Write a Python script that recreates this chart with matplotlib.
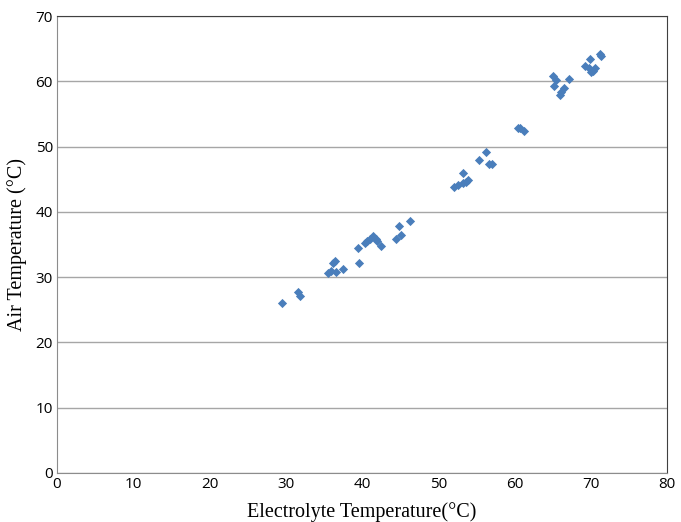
import numpy as np
import matplotlib.pyplot as plt

# Electrolyte temperature (x) vs air temperature (y), in degC
electrolyte_temp = [29.5, 31.6, 31.9,
                    35.6, 35.9, 36.2, 36.5, 36.6, 37.5, 39.6, 39.5,
                    40.4, 40.7, 41.0, 41.5, 41.8, 42.0, 42.5,
                    44.5, 45.1, 44.8, 46.3,
                    52.1, 52.6, 53.2, 53.6, 53.9, 53.2,
                    55.4, 56.3, 56.7, 57.1,
                    60.4, 60.7, 61.2,
                    65.0, 65.5, 65.2, 67.1, 66.5, 66.1, 66.0,
                    69.2, 69.9, 69.8, 70.3, 70.6, 70.0, 71.4, 71.2]
air_temp = [26.0, 27.8, 27.1,
            30.7, 31.0, 32.1, 32.5, 30.8, 31.3, 32.1, 34.5,
            35.2, 35.6, 35.9, 36.3, 35.8, 35.5, 34.7,
            35.8, 36.4, 37.8, 38.6,
            43.8, 44.1, 44.4, 44.6, 44.9, 46.0,
            48.0, 49.2, 47.4, 47.3,
            52.9, 52.8, 52.4,
            60.8, 60.2, 59.3, 60.3, 58.9, 58.3, 57.9,
            62.3, 63.4, 62.1, 61.6, 62.1, 61.5, 63.8, 64.2]

x_ticks = np.arange(0, 81, 10)
y_ticks = np.arange(0, 71, 10)

fig = plt.figure(figsize=(6.81, 5.22), dpi=100)
ax = fig.add_axes([0.0837, 0.0939, 0.8957, 0.8754])

ax.scatter(electrolyte_temp, air_temp, marker='D', s=22, color='#4a7ebb',
           linewidths=0, zorder=3)

ax.set_xlim(0, 80)
ax.set_ylim(0, 70)
ax.set_xticks(x_ticks)
ax.set_yticks(y_ticks)
ax.yaxis.grid(True, color='#a6a6a6', linewidth=1)
ax.set_axisbelow(True)

for side in ['left', 'bottom']:
    ax.spines[side].set_color('#8c8c8c')
for side in ['top', 'right']:
    ax.spines[side].set_color('#404040')

ax.tick_params(length=0, labelsize=11, pad=3)
for lbl in ax.get_xticklabels() + ax.get_yticklabels():
    lbl.set_fontfamily('Open Sans')

ax.set_xlabel('Electrolyte Temperature(°C)', fontfamily='Liberation Serif',
              fontsize=14.5, labelpad=7)
ax.set_ylabel('Air Temperature (°C)', fontfamily='Liberation Serif',
              fontsize=14.5, labelpad=6)

fig.savefig('out.png', dpi=100)
